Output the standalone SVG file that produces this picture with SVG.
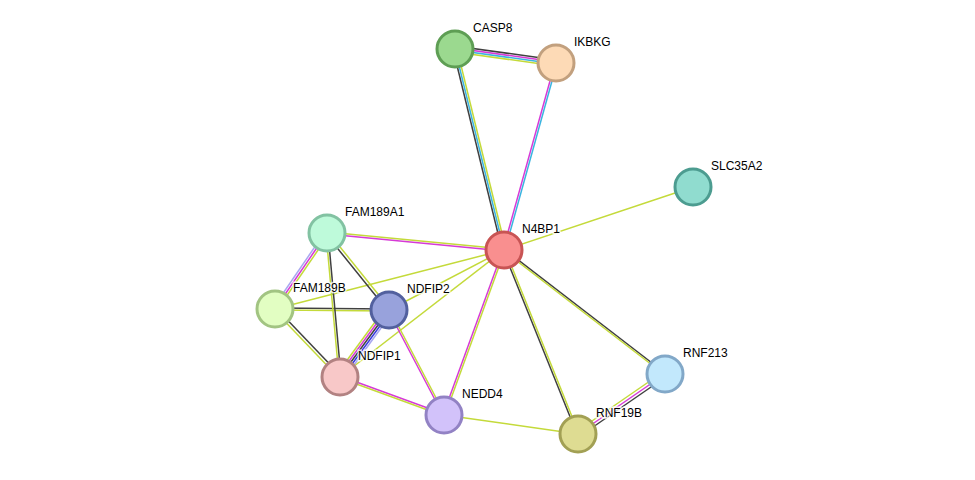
<svg xmlns="http://www.w3.org/2000/svg" width="975" height="480" viewBox="0 0 975 480">
<style>
line{stroke-width:1.5;fill:none}
.k{stroke:#404040}.y{stroke:#c4da3a}.m{stroke:#d63ad6}.c{stroke:#3ab4e0}.b{stroke:#3a3ae0}.l{stroke:#a8a8f0}
circle{stroke-width:3}
text{font-family:"Liberation Sans",Arial,sans-serif;font-size:12px;fill:#000;stroke:#fff;stroke-width:3;paint-order:stroke;stroke-opacity:.8}
</style>
<rect width="975" height="480" fill="#fff"/>
<g id="connectors">
<line class="k" x1="455" y1="46" x2="556" y2="60"/>
<line class="m" x1="455" y1="48" x2="556" y2="62"/>
<line class="c" x1="455" y1="50" x2="556" y2="64"/>
<line class="y" x1="455" y1="52" x2="556" y2="66"/>
<line class="k" x1="453" y1="49" x2="502" y2="250"/>
<line class="c" x1="455" y1="49" x2="504" y2="250"/>
<line class="y" x1="457" y1="49" x2="506" y2="250"/>
<line class="m" x1="555" y1="63" x2="503" y2="250"/>
<line class="c" x1="557" y1="63" x2="505" y2="250"/>
<line class="y" x1="504" y1="250" x2="693" y2="187"/>
<line class="y" x1="327" y1="232" x2="504" y2="249"/>
<line class="m" x1="327" y1="234" x2="504" y2="251"/>
<line class="y" x1="275" y1="309" x2="504" y2="250"/>
<line class="y" x1="389" y1="310" x2="504" y2="250"/>
<line class="y" x1="340" y1="377" x2="504" y2="250"/>
<line class="m" x1="503" y1="250" x2="443" y2="415"/>
<line class="y" x1="505" y1="250" x2="445" y2="415"/>
<line class="k" x1="503" y1="250" x2="577" y2="434"/>
<line class="y" x1="505" y1="250" x2="579" y2="434"/>
<line class="k" x1="504" y1="249" x2="665" y2="373"/>
<line class="y" x1="504" y1="251" x2="665" y2="375"/>
<line class="y" x1="663" y1="372" x2="576" y2="432"/>
<line class="m" x1="665" y1="374" x2="578" y2="434"/>
<line class="k" x1="667" y1="376" x2="580" y2="436"/>
<line class="y" x1="444" y1="415" x2="578" y2="434"/>
<line class="m" x1="340" y1="376" x2="444" y2="414"/>
<line class="y" x1="340" y1="378" x2="444" y2="416"/>
<line class="m" x1="388" y1="310" x2="443" y2="415"/>
<line class="y" x1="390" y1="310" x2="445" y2="415"/>
<line class="y" x1="386" y1="307" x2="337" y2="374"/>
<line class="m" x1="387.5" y1="308.5" x2="338.5" y2="375.5"/>
<line class="k" x1="389" y1="310" x2="340" y2="377"/>
<line class="b" x1="390.5" y1="311.5" x2="341.5" y2="378.5"/>
<line class="l" x1="392" y1="313" x2="343" y2="380"/>
<line class="k" x1="275" y1="308" x2="389" y2="309"/>
<line class="y" x1="275" y1="310" x2="389" y2="311"/>
<line class="k" x1="276" y1="308" x2="341" y2="376"/>
<line class="y" x1="274" y1="310" x2="339" y2="378"/>
<line class="l" x1="325" y1="232" x2="273" y2="308"/>
<line class="m" x1="327" y1="233" x2="275" y2="309"/>
<line class="y" x1="329" y1="234" x2="277" y2="310"/>
<line class="y" x1="326" y1="233" x2="339" y2="377"/>
<line class="k" x1="328" y1="233" x2="341" y2="377"/>
<line class="k" x1="326" y1="234" x2="388" y2="311"/>
<line class="y" x1="328" y1="232" x2="390" y2="309"/>
</g>
<g id="CASP8"><circle cx="455" cy="49" r="18" fill="#9bd98f" stroke="#5e9e54"/><text x="473" y="32">CASP8</text></g>
<g id="IKBKG"><circle cx="556" cy="63" r="18" fill="#fddab6" stroke="#c2a07e"/><text x="574" y="46">IKBKG</text></g>
<g id="SLC35A2"><circle cx="693" cy="187" r="18" fill="#90dccf" stroke="#4c9c90"/><text x="711" y="170">SLC35A2</text></g>
<g id="N4BP1"><circle cx="504" cy="250" r="18" fill="#f98f8f" stroke="#c85454"/><text x="522" y="233">N4BP1</text></g>
<g id="FAM189A1"><circle cx="327" cy="233" r="18" fill="#befada" stroke="#82c2a2"/><text x="345" y="216">FAM189A1</text></g>
<g id="FAM189B"><circle cx="275" cy="309" r="18" fill="#e2fec2" stroke="#a2c482"/><text x="293" y="292">FAM189B</text></g>
<g id="NDFIP2"><circle cx="389" cy="310" r="18" fill="#98a2dc" stroke="#52609e"/><text x="407" y="293">NDFIP2</text></g>
<g id="NDFIP1"><circle cx="340" cy="377" r="18" fill="#f8c8c8" stroke="#b28282"/><text x="358" y="360">NDFIP1</text></g>
<g id="NEDD4"><circle cx="444" cy="415" r="18" fill="#d2c2fa" stroke="#9282c4"/><text x="462" y="398">NEDD4</text></g>
<g id="RNF19B"><circle cx="578" cy="434" r="18" fill="#dedc92" stroke="#a2a054"/><text x="596" y="417">RNF19B</text></g>
<g id="RNF213"><circle cx="665" cy="374" r="18" fill="#c2e8fc" stroke="#82a8c8"/><text x="683" y="357">RNF213</text></g>
</svg>
